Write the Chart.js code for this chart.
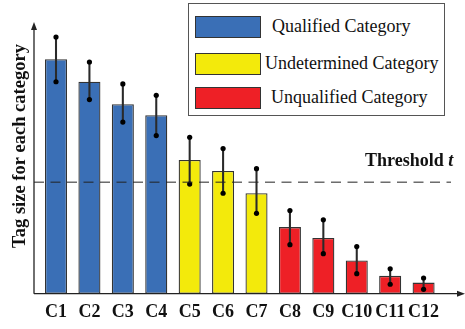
<!DOCTYPE html>
<html>
<head>
<meta charset="utf-8">
<script src="https://cdn.jsdelivr.net/npm/chart.js@4"></script>
<style>
  html, body { margin: 0; padding: 0; background: #fff; }
  #wrap { position: relative; width: 465px; height: 329px; }
  #legend {
    position: absolute; left: 188px; top: 3px; width: 257px; height: 113px;
    border: 1.5px solid #555; background: #fff; box-sizing: border-box;
    font-family: "Liberation Serif", "Times New Roman", serif; font-size: 18px; color: #111;
  }
  .item { position: absolute; left: 6px; height: 23px; display: flex; align-items: center; }
  .swatch { width: 66px; height: 22px; border: 1.2px solid #333; box-sizing: border-box; margin-right: 7px; }
</style>
</head>
<body>
<div id="wrap">
  <canvas id="tagChart" width="465" height="329"></canvas>
  <div id="legend"></div>
</div>
<script>
const categories = ['C1', 'C2', 'C3', 'C4', 'C5', 'C6', 'C7', 'C8', 'C9', 'C10', 'C11', 'C12'];
const tagSize = [8.66, 7.83, 7.00, 6.59, 4.94, 4.53, 3.71, 2.46, 2.06, 1.23, 0.66, 0.41];
const errLow  = [7.83, 7.17, 6.34, 5.84, 4.05, 3.71, 2.97, 1.81, 1.48, 0.74, 0.35, 0.16];
const errHigh = [9.48, 8.56, 7.75, 7.33, 5.78, 5.36, 4.62, 3.07, 2.73, 1.74, 0.92, 0.58];
const groupOf = ['Q', 'Q', 'Q', 'Q', 'U', 'U', 'U', 'N', 'N', 'N', 'N', 'N'];
const threshold = 4.12;

const groups = [
  { key: 'Q', label: 'Qualified Category', color: '#3a6fb6' },
  { key: 'U', label: 'Undetermined Category', color: '#f3ea0b' },
  { key: 'N', label: 'Unqualified Category', color: '#ee2026' }
];
const colorOf = k => groups.find(g => g.key === k).color;

// legend box
const legendEl = document.getElementById('legend');
const legendTops = [11, 48, 82];
const textShift = [4, -3, 3];
groups.forEach(function (g, i) {
  const div = document.createElement('div');
  div.className = 'item';
  div.style.top = legendTops[i] + 'px';
  div.innerHTML = '<span class="swatch" style="background:' + g.color + '"></span>' +
    '<span style="margin-left:' + textShift[i] + 'px">' + g.label + '</span>';
  legendEl.appendChild(div);
});

const serif = "'Liberation Serif', 'Times New Roman', serif";

const decorPlugin = {
  id: 'decor',
  afterDraw(chart) {
    const ctx = chart.ctx;
    const y = chart.scales.y;
    const axisX = 34, base = y.getPixelForValue(0);
    ctx.save();
    ctx.strokeStyle = '#222';
    ctx.fillStyle = '#222';
    ctx.lineWidth = 1.3;
    // y axis with arrow
    ctx.beginPath();
    ctx.moveTo(axisX, base);
    ctx.lineTo(axisX, 28);
    ctx.stroke();
    ctx.beginPath();
    ctx.moveTo(axisX, 22);
    ctx.lineTo(axisX - 3, 30);
    ctx.lineTo(axisX + 3, 30);
    ctx.closePath();
    ctx.fill();
    // x axis with arrow
    ctx.beginPath();
    ctx.moveTo(axisX, base);
    ctx.lineTo(458, base);
    ctx.stroke();
    ctx.beginPath();
    ctx.moveTo(465, base);
    ctx.lineTo(457, base - 3);
    ctx.lineTo(457, base + 3);
    ctx.closePath();
    ctx.fill();
    // threshold
    const ty = y.getPixelForValue(threshold);
    ctx.setLineDash([10, 6.5]);
    ctx.lineWidth = 1;
    ctx.beginPath();
    ctx.moveTo(axisX, ty);
    ctx.lineTo(451, ty);
    ctx.stroke();
    ctx.setLineDash([]);
    ctx.fillStyle = '#111';
    ctx.textBaseline = 'middle';
    ctx.font = 'bold 18px ' + serif;
    ctx.fillText('Threshold ', 365, ty - 21);
    const w = ctx.measureText('Threshold ').width;
    ctx.font = 'italic bold 18px ' + serif;
    ctx.fillText('t', 365 + w, ty - 21);
    // y title
    ctx.translate(20, 146);
    ctx.rotate(-Math.PI / 2);
    ctx.font = 'bold 18.5px ' + serif;
    ctx.textAlign = 'center';
    ctx.textBaseline = 'middle';
    ctx.fillText('Tag size for each category', 0, 0);
    ctx.restore();
  }
};

new Chart(document.getElementById('tagChart').getContext('2d'), {
  data: {
    labels: categories,
    datasets: [
      {
        type: 'line',
        data: errHigh,
        showLine: false,
        pointRadius: 2.6,
        pointBackgroundColor: '#000',
        pointBorderWidth: 0,
        order: 1
      },
      {
        type: 'line',
        data: errLow,
        showLine: false,
        pointRadius: 2.6,
        pointBackgroundColor: '#000',
        pointBorderWidth: 0,
        order: 1
      },
      {
        type: 'bar',
        data: errLow.map((v, i) => [v, errHigh[i]]),
        backgroundColor: '#2a2a2a',
        borderWidth: 0,
        barThickness: 1.4,
        grouped: false,
        order: 2
      },
      {
        type: 'bar',
        data: tagSize,
        backgroundColor: groupOf.map(colorOf),
        borderColor: '#333',
        borderWidth: 1.3,
        borderSkipped: false,
        categoryPercentage: 1,
        barPercentage: 0.66,
        grouped: false,
        order: 3
      }
    ]
  },
  options: {
    responsive: false,
    animation: false,
    layout: { padding: { left: 39.3, right: 24.7, top: 23, bottom: -2.3 } },
    plugins: { legend: { display: false }, tooltip: { enabled: false } },
    scales: {
      x: {
        type: 'category',
        offset: true,
        grid: { display: false, drawTicks: false },
        border: { display: false },
        ticks: {
          color: '#111',
          padding: 8,
          maxRotation: 0,
          autoSkip: false,
          font: { family: serif, size: 18, weight: 'bold' }
        }
      },
      y: {
        display: false,
        min: 0,
        max: 10
      }
    }
  },
  plugins: [decorPlugin]
});
</script>
</body>
</html>
